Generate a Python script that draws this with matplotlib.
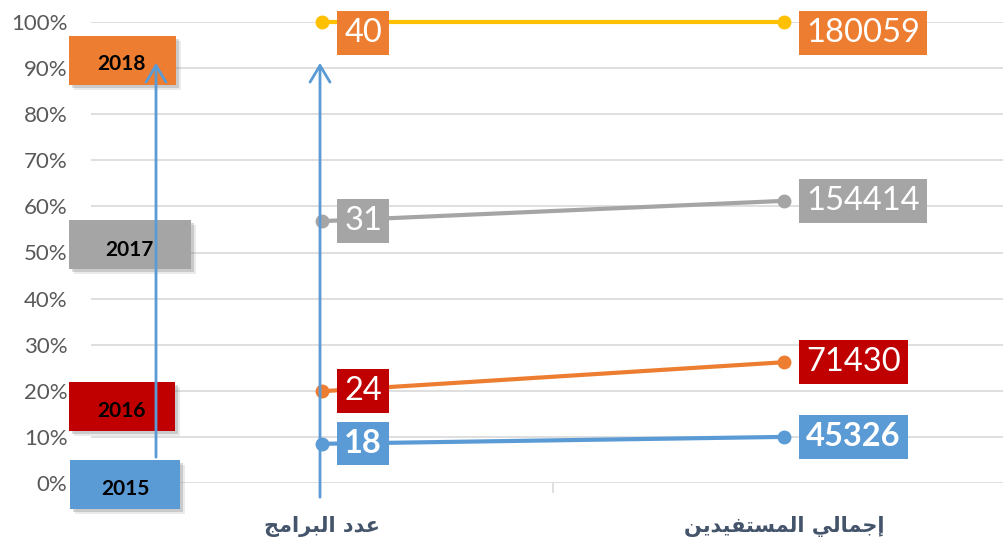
import matplotlib.pyplot as plt
import numpy as np
from matplotlib.patches import Rectangle, FancyArrowPatch
from matplotlib.ticker import PercentFormatter

W, H = 1004, 542

# category labels, Arabic written with presentation forms in visual order
# "عدد البرامج" and "إجمالي المستفيدين"
categories = ['\ufe9e\ufee3\ufe8d\ufeae\ufe92\ufedf\ufe8d \ufea9\ufeaa\ufecb',
              '\ufee6\ufef3\ufeaa\ufef4\ufed4\ufe98\ufeb4\ufee4\ufedf\ufe8d \ufef2\ufedf\ufe8e\ufee4\ufe9f\ufe87']
years = ['2015', '2016', '2017', '2018']
programs = [18, 24, 31, 40]
beneficiaries = [45326, 71430, 154414, 180059]
# stacked share (%) of each series, as drawn in the chart
share_programs = [8.5, 19.9, 56.8, 100]
share_beneficiaries = [10.0, 26.2, 61.2, 100]

line_colors = ['#5B9BD5', '#ED7D31', '#A5A5A5', '#FFC000']
label_colors = ['#5B9BD5', '#C00000', '#A5A5A5', '#ED7D31']


def fx(x):
    return x / W


def fy(y):
    return 1 - y / H


fig = plt.figure(figsize=(W / 100, H / 100), dpi=100)
ax = fig.add_axes([fx(91), fy(483), (1015 - 91) / W, (483 - 22) / H])

xs = [0.5, 1.5]
for i in range(len(years)):
    ax.plot(xs, [share_programs[i] / 100, share_beneficiaries[i] / 100],
            color=line_colors[i], lw=3, marker='o', ms=9,
            solid_capstyle='round', zorder=3, clip_on=False)
    for j, (s, v) in enumerate([(share_programs[i], programs[i]),
                                (share_beneficiaries[i], beneficiaries[i])]):
        dy = -8 if s >= 100 else 0
        ax.annotate(str(v), (xs[j], s / 100), xytext=(16, dy),
                    textcoords='offset points', ha='left', va='center',
                    fontsize=23.5, family='Lato', color='white',
                    weight='bold' if i == 0 else 'normal',
                    bbox=dict(boxstyle='square,pad=0.22', fc=label_colors[i], ec='none'),
                    zorder=5)

ax.set_xlim(0, 2)
ax.set_ylim(0, 1)
ax.set_yticks(np.arange(0, 1.01, 0.1))
ax.yaxis.set_major_formatter(PercentFormatter(1.0, decimals=0))
ax.grid(axis='y', color='#D9D9D9', lw=1.2)
ax.set_axisbelow(True)
for s in ax.spines.values():
    s.set_visible(False)
ax.tick_params(axis='y', length=0, pad=17, labelsize=16, labelcolor='#595959')
for t in ax.get_yticklabels():
    t.set_family('Lato')

ax.set_xticks(xs)
ax.set_xticklabels(categories, family='DejaVu Sans', weight='bold',
                   fontsize=15, color='#44546A')
ax.tick_params(axis='x', length=0, pad=24)
ax.set_xticks([1], minor=True)
ax.tick_params(axis='x', which='minor', length=7, color='#D9D9D9', width=1.2)

# year boxes on the left
boxes = [(70, 460, 180, 509, 125, 489),
         (69, 382, 175, 431, 122, 411),
         (69, 220, 191, 269, 129, 250),
         (69, 36, 176, 85, 122, 64)]
for i, (x0, y0, x1, y1, tx, ty) in enumerate(boxes):
    for k, a in [(5, 0.15), (3, 0.3)]:
        fig.patches.append(Rectangle((fx(x0 + k), fy(y1 + k)), (x1 - x0) / W, (y1 - y0) / H,
                                     transform=fig.transFigure, fc='#7F7F7F', alpha=a,
                                     ec='none', zorder=1))
    fig.patches.append(Rectangle((fx(x0), fy(y1)), (x1 - x0) / W, (y1 - y0) / H,
                                 transform=fig.transFigure, fc=label_colors[i],
                                 ec='none', zorder=2))
    fig.text(fx(tx), fy(ty), years[i], ha='center', va='center', fontsize=15,
             weight='bold', family='Lato', color='black', zorder=3)

# arrows
for x, y0 in [(156, 460), (320, 500)]:
    fig.patches.append(FancyArrowPatch((fx(x), fy(y0)), (fx(x), fy(60)),
                                       transform=fig.transFigure,
                                       arrowstyle='->,head_length=0.6,head_width=0.36',
                                       mutation_scale=20, lw=2, color='#5B9BD5',
                                       zorder=4))

fig.savefig('out.png', dpi=100)
